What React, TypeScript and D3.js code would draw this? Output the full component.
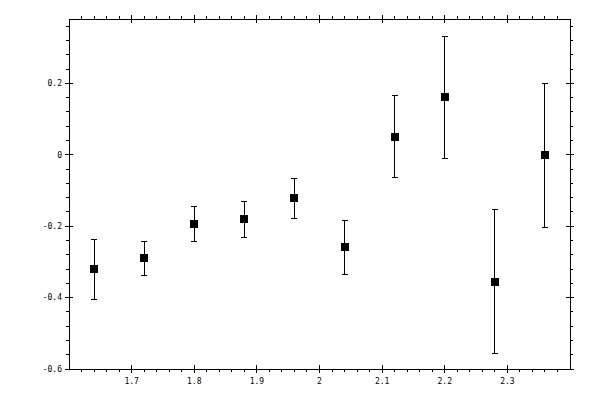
import { scaleLinear, range } from 'd3';

const xValues = [1.64, 1.72, 1.8, 1.88, 1.96, 2.04, 2.12, 2.2, 2.28, 2.36];
const yValues = [-0.321, -0.29, -0.195, -0.181, -0.122, -0.259, 0.051, 0.161, -0.355, -0.002];
const yErrors = [0.084, 0.048, 0.049, 0.0495, 0.0555, 0.075, 0.116, 0.171, 0.2015, 0.202];

const xMajorTicks = [1.7, 1.8, 1.9, 2, 2.1, 2.2, 2.3];
const yMajorTicks = [-0.6, -0.4, -0.2, 0, 0.2];

const W = 600;
const H = 400;
const frame = { left: 69, right: 570, top: 19, bottom: 369 };

const fmt = (v: number) => {
  const s = String(Math.round(v * 10) / 10);
  return s;
};

export default function App() {
  const xs = scaleLinear().domain([1.6, 2.4]).range([frame.left, frame.right]);
  const ys = scaleLinear().domain([-0.6, 0.38]).range([frame.bottom, frame.top]);

  const xMinor = range(1.6, 2.4001, 0.02).filter((v) => Math.abs(v * 10 - Math.round(v * 10)) > 1e-6);
  const yMinor = range(-0.6, 0.38, 0.04).filter((v) => Math.abs(v * 5 - Math.round(v * 5)) > 1e-6);

  const major = 4;
  const minor = 3;
  const font = { fontFamily: '"DejaVu Sans Mono", monospace', fontSize: 8 };

  return (
    <div style={{ position: 'fixed', left: 0, top: 0 }}>
      <svg width={W} height={H} viewBox={`0 0 ${W} ${H}`} style={{ display: 'block', background: '#fff' }}>
        <g stroke="#000" strokeWidth={1} shapeRendering="crispEdges">
          <rect x={frame.left} y={frame.top} width={frame.right - frame.left} height={frame.bottom - frame.top} fill="none" />
          {/* bottom + top ticks */}
          {xMinor.map((v) => (
            <g key={`xm${v}`}>
              <line x1={xs(v)} x2={xs(v)} y1={frame.bottom} y2={frame.bottom + minor} />
              <line x1={xs(v)} x2={xs(v)} y1={frame.top} y2={frame.top - minor} />
            </g>
          ))}
          {xMajorTicks.map((v) => (
            <g key={`xM${v}`}>
              <line x1={xs(v)} x2={xs(v)} y1={frame.bottom - major} y2={frame.bottom + major} />
              <line x1={xs(v)} x2={xs(v)} y1={frame.top - major} y2={frame.top + major} />
            </g>
          ))}
          {/* left + right ticks */}
          {yMinor.map((v) => (
            <g key={`ym${v}`}>
              <line x1={frame.left - minor} x2={frame.left} y1={ys(v)} y2={ys(v)} />
              <line x1={frame.right} x2={frame.right + minor} y1={ys(v)} y2={ys(v)} />
            </g>
          ))}
          {yMajorTicks.map((v) => (
            <g key={`yM${v}`}>
              <line x1={frame.left - major} x2={frame.left + major} y1={ys(v)} y2={ys(v)} />
              <line x1={frame.right - major} x2={frame.right + major} y1={ys(v)} y2={ys(v)} />
            </g>
          ))}
          {/* error bars */}
          {xValues.map((x, i) => {
            const cx = xs(x);
            const lo = ys(yValues[i]! - yErrors[i]!);
            const hi = ys(yValues[i]! + yErrors[i]!);
            return (
              <g key={`e${i}`}>
                <line x1={cx} x2={cx} y1={lo} y2={hi} />
                <line x1={cx - 3} x2={cx + 3} y1={lo} y2={lo} />
                <line x1={cx - 3} x2={cx + 3} y1={hi} y2={hi} />
              </g>
            );
          })}
        </g>
        {xValues.map((x, i) => (
          <rect key={`p${i}`} x={xs(x) - 4} y={ys(yValues[i]!) - 4} width={8} height={8} fill="#000" shapeRendering="crispEdges" />
        ))}
        {xMajorTicks.map((v) => (
          <text key={`xl${v}`} x={xs(v)} y={frame.bottom + 15} textAnchor="middle" fill="#000" style={font}>
            {fmt(v)}
          </text>
        ))}
        {yMajorTicks.map((v) => (
          <text key={`yl${v}`} x={frame.left - 7} y={ys(v)} dy="0.35em" textAnchor="end" fill="#000" style={font}>
            {fmt(v)}
          </text>
        ))}
      </svg>
    </div>
  );
}
